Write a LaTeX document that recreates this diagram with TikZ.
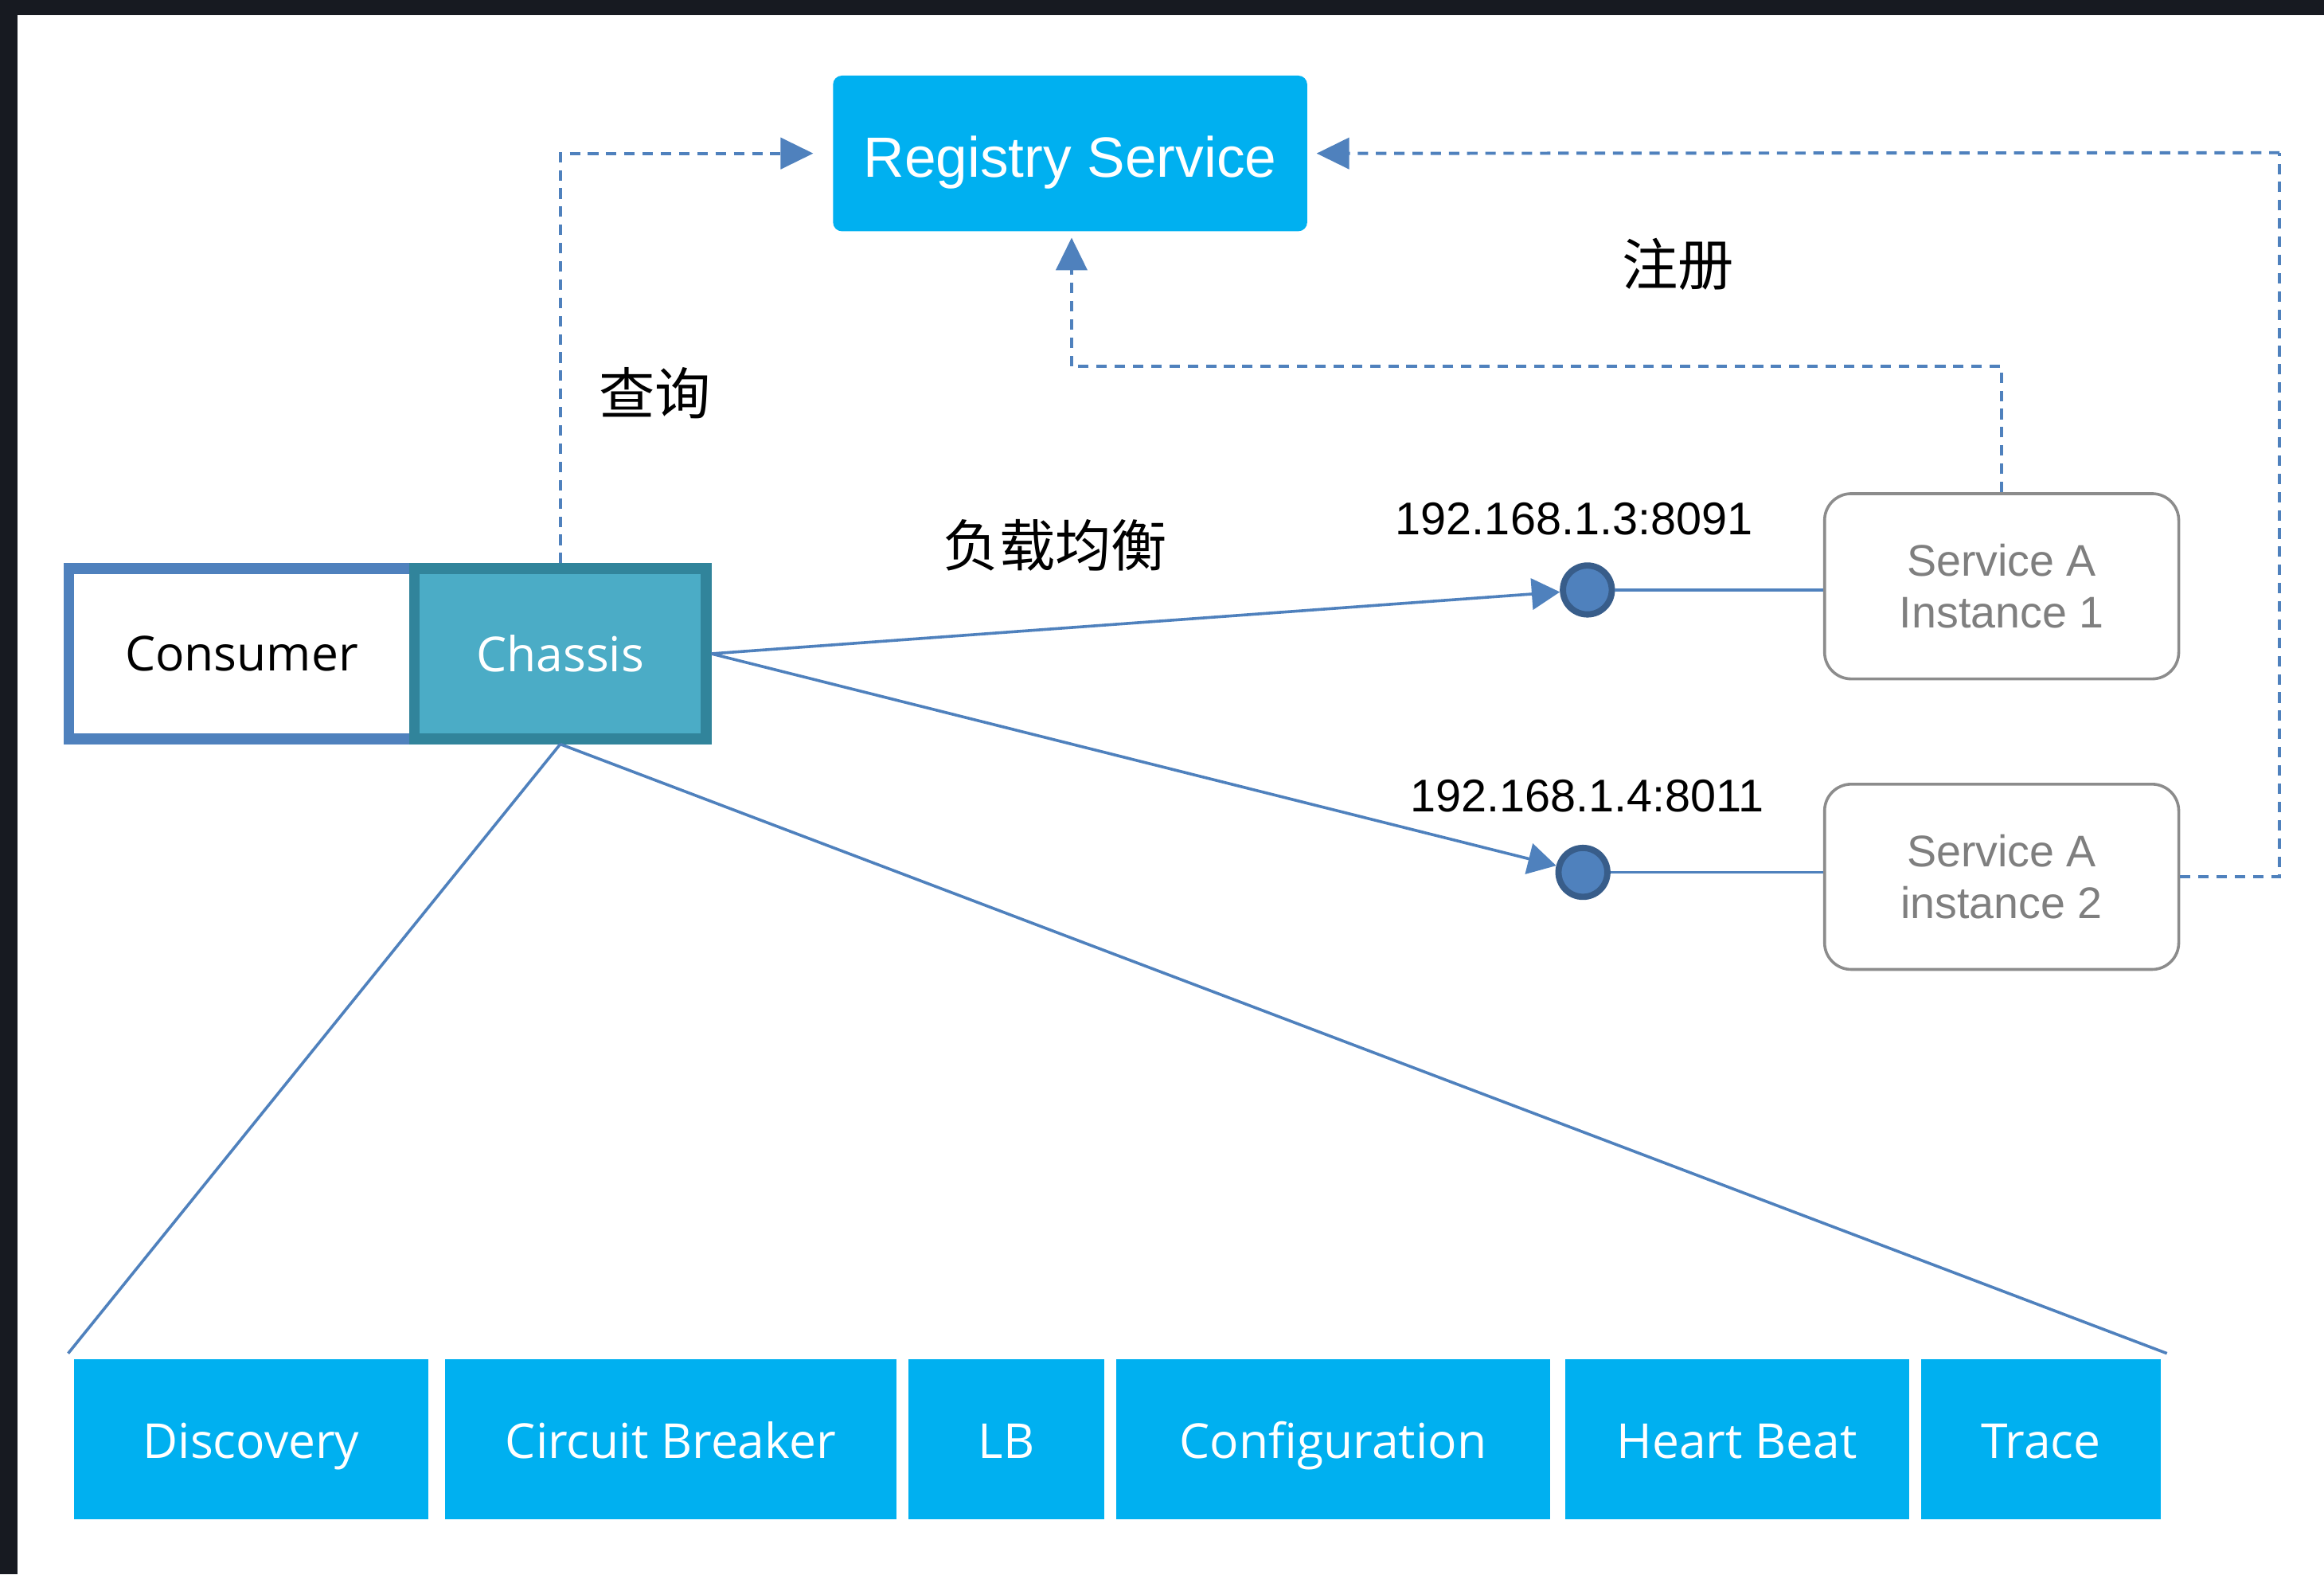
\documentclass[tikz,border=0pt]{standalone}
\usepackage{fontspec}
\usetikzlibrary{arrows.meta}
\setmainfont{Liberation Sans}
\newfontfamily\uifont{Open Sans}
\newfontfamily\cjk{Noto Sans CJK SC}
\definecolor{frame}{HTML}{171A21}
\definecolor{cyanbox}{HTML}{00B0F0}
\definecolor{linkblue}{HTML}{4F81BD}
\definecolor{darkblue}{HTML}{385D8A}
\definecolor{teal}{HTML}{4BACC6}
\definecolor{tealdark}{HTML}{31849B}
\definecolor{greyline}{HTML}{8C8C8C}
\definecolor{greytext}{HTML}{7F7F7F}
\begin{document}
\begin{tikzpicture}[x=0.02cm,y=-0.02cm,
  regbox/.style={fill=cyanbox,rounded corners=0.12cm,inner sep=0pt,minimum width=6.4cm,minimum height=2.1cm,text height=18.4pt,text depth=0pt,text=white,font=\fontsize{21.8}{24}\selectfont},
  modbox/.style={fill=cyanbox,inner sep=0pt,minimum height=2.16cm,text height=14.6pt,text depth=0pt,text=white,font=\uifont\fontsize{18.5}{22}\selectfont},
  consbox/.style={draw=linkblue,line width=4pt,fill=white,inner sep=0pt,minimum width=4.66cm,minimum height=2.3cm,font=\uifont\fontsize{18.5}{22}\selectfont},
  chasbox/.style={draw=tealdark,line width=4pt,fill=teal,inner sep=0pt,minimum width=3.94cm,minimum height=2.3cm,text=white,font=\uifont\fontsize{18.5}{22}\selectfont},
  instbox/.style={draw=greyline,line width=1.1pt,rounded corners=0.36cm,inner sep=0pt,minimum width=4.78cm,minimum height=2.5cm,text=greytext,align=center,font=\fontsize{17}{20}\selectfont},
  portdot/.style={circle,draw=darkblue,fill=linkblue,line width=2.4pt,minimum size=0.66cm,inner sep=0pt},
  lbline/.style={draw=linkblue,line width=1.1pt,-{Triangle[length=0.38cm,width=0.42cm]}},
  plainline/.style={draw=linkblue,line width=1.1pt},
  dashline/.style={draw=linkblue,line width=1.2pt,dash pattern=on 4pt off 3pt,-{Triangle[length=0.44cm,width=0.42cm]}},
  dashnoarrow/.style={draw=linkblue,line width=1.2pt,dash pattern=on 4pt off 3pt},
  cnlabel/.style={font=\cjk\fontsize{21.5}{24}\selectfont,inner sep=0pt},
  iplabel/.style={font=\fontsize{17.6}{20}\selectfont,inner sep=0pt}
]
\useasboundingbox (0,0) rectangle (1568,1062);
\fill[frame] (0,0) rectangle (1568,1062);
\fill[white] (12,10) rectangle (1568,1062);

% registry
\node[regbox] (reg) at (722,103.5) {Registry Service};

% consumer + chassis
\node[consbox] (cons) at (163,441) {Consumer};
\node[chasbox] (chas) at (378,441) {Chassis};

% ports
\node[portdot] (p1) at (1071,398) {};
\node[portdot] (p2) at (1068,588.5) {};

% instances
\node[instbox] (i1) at (1350.5,395.5) {Service A\\Instance 1};
\node[instbox] (i2) at (1350.5,591.5) {Service A\\instance 2};

% modules
\node[modbox,minimum width=4.78cm] (m1) at (169.5,971) {Discovery};
\node[modbox,minimum width=6.10cm] (m2) at (452.5,971) {Circuit Breaker};
\node[modbox,minimum width=2.64cm] (m3) at (679,971) {LB};
\node[modbox,minimum width=5.86cm] (m4) at (899.5,971) {Configuration};
\node[modbox,minimum width=4.64cm] (m5) at (1172,971) {Heart Beat};
\node[modbox,minimum width=3.24cm] (m6) at (1377,971) {Trace};

% labels
\node[cnlabel] (q) at (442,265) {查询};
\node[cnlabel] (r) at (1132,178) {注册};
\node[cnlabel] (lb) at (712,368) {负载均衡};
\node[iplabel] (ip1) at (1062,350) {192.168.1.3:8091};
\node[iplabel] (ip2) at (1071,537) {192.168.1.4:8011};

% coordinates
\coordinate (fanL) at (46,913);
\coordinate (fanR) at (1462,913);
\coordinate (rc) at (1538,103);
\coordinate (lc) at (723,247);

% load-balancing connectors
\draw[lbline] (chas.east) -- (p1);
\draw[lbline] (chas.east) -- (p2);
\draw[plainline] (p1.east) -- (p1.east -| i1.west);
\draw[plainline] (p2.east) -- (p2.east -| i2.west);

% fan lines
\draw[plainline] (chas.south) -- (fanL);
\draw[plainline] (chas.south) -- (fanR);

% dashed registry links
\draw[dashline] (chas.north) |- ([xshift=-0.26cm]reg.west);
\draw[dashnoarrow] (i2.east) -| (rc);
\draw[dashline] (rc) -- ([xshift=0.12cm]reg.east);
\draw[dashnoarrow] (i1.north) |- (lc);
\draw[dashline] (lc) -- ([yshift=-0.08cm]reg.south -| lc);
\end{tikzpicture}
\end{document}
